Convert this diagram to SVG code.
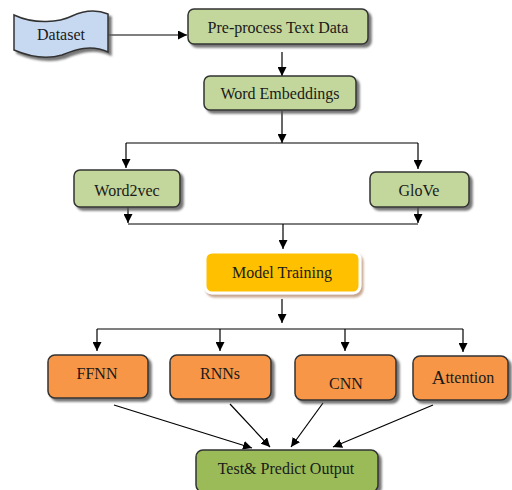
<svg xmlns="http://www.w3.org/2000/svg" width="512" height="490" viewBox="0 0 512 490">
<style>
text{font-family:"Liberation Serif","Times New Roman",serif;font-size:16px;fill:#1a1a1a;text-anchor:middle;dominant-baseline:central}
.box{stroke:#333;stroke-width:1.5}
.g1{fill:#C3D69B}
.or{fill:#F79646}
.g2{fill:#9BBB59}
.ds{fill:#C6D9F1}
.c{stroke:#000;stroke-width:1.2;fill:none}
.a{marker-end:url(#ah)}
</style>
<defs>
<marker id="ah" viewBox="0 0 10 10" refX="10" refY="5" markerWidth="9" markerHeight="9" markerUnits="userSpaceOnUse" orient="auto">
<path d="M0,0 L10,5 L0,10 Z" fill="#000"/>
</marker>
<filter id="sh" x="-10%" y="-10%" width="130%" height="140%">
<feDropShadow dx="3" dy="3" stdDeviation="1" flood-color="#555" flood-opacity="0.8"/>
</filter>
<filter id="sh2" x="-10%" y="-10%" width="130%" height="140%">
<feDropShadow dx="2" dy="3" stdDeviation="1" flood-color="#B08060" flood-opacity="0.7"/>
</filter>
</defs>
<g id="connectors">
<path class="c a" d="M108,35 H187"/>
<path class="c a" d="M282,52 V76"/>
<path class="c a" d="M282,111 V143"/>
<path class="c" d="M126,143 H418"/>
<path class="c a" d="M126,143 V168"/>
<path class="c a" d="M418,143 V169"/>
<path class="c a" d="M128,207 V223"/>
<path class="c a" d="M418,207 V223"/>
<path class="c" d="M128,224 H418"/>
<path class="c a" d="M283,224 V249"/>
<path class="c a" d="M282,299 V323"/>
<path class="c" d="M97,329 H463"/>
<path class="c a" d="M97,329 V351"/>
<path class="c a" d="M220,329 V351"/>
<path class="c a" d="M345,329 V351"/>
<path class="c a" d="M463,329 V352"/>
<path class="c a" d="M114,405 L252,448"/>
<path class="c a" d="M230,404 L270,447"/>
<path class="c a" d="M323,403 L291,447"/>
<path class="c a" d="M433,405 L333,447"/>
</g>
<g id="dataset">
<path class="box ds" filter="url(#sh)" d="M14,15 C35,25 60,22 72,16 C85,10 98,10 108,14 L108,52 C90,44 75,50 62,55 C45,60 28,56 14,50 Z"/>
<text x="61" y="34">Dataset</text>
</g>
<g id="preprocess">
<rect class="box g1" filter="url(#sh)" x="188" y="9" width="180" height="35" rx="6"/>
<text x="278" y="27">Pre-process Text Data</text>
</g>
<g id="embeddings">
<rect class="box g1" filter="url(#sh)" x="204" y="76" width="152" height="34" rx="6"/>
<text x="280" y="93">Word Embeddings</text>
</g>
<g id="word2vec">
<rect class="box g1" filter="url(#sh)" x="74" y="170" width="106" height="37" rx="6"/>
<text x="127" y="190">Word2vec</text>
</g>
<g id="glove">
<rect class="box g1" filter="url(#sh)" x="370" y="172" width="99" height="35" rx="6"/>
<text x="419" y="190">GloVe</text>
</g>
<g id="model">
<rect filter="url(#sh2)" x="205" y="252" width="155" height="41" rx="7" fill="#FFC000" stroke="#fff" stroke-width="3"/>
<text x="282" y="272">Model Training</text>
</g>
<g id="ffnn">
<rect class="box or" filter="url(#sh)" x="48" y="355" width="100" height="43" rx="7"/>
<text x="97" y="373">FFNN</text>
</g>
<g id="rnns">
<rect class="box or" filter="url(#sh)" x="170" y="355" width="101" height="44" rx="7"/>
<text x="220" y="373">RNNs</text>
</g>
<g id="cnn">
<rect class="box or" filter="url(#sh)" x="295" y="355" width="101" height="45" rx="7"/>
<text x="346" y="383">CNN</text>
</g>
<g id="attention">
<rect class="box or" filter="url(#sh)" x="413" y="356" width="95" height="44" rx="7"/>
<text x="463" y="377"><tspan font-size="19">A</tspan>ttention</text>
</g>
<g id="test">
<rect class="box g2" filter="url(#sh)" x="196" y="450" width="182" height="42" rx="7"/>
<text x="286" y="468">Test&amp; Predict Output</text>
</g>
</svg>
